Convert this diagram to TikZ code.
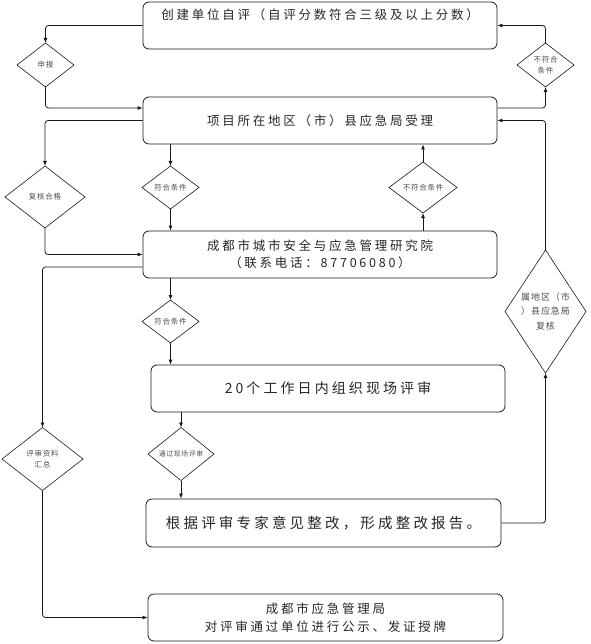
\documentclass[tikz,border=0pt]{standalone}
\usepackage{fontspec}
\newfontfamily\cjk[LetterSpace=22]{Noto Sans CJK SC}
\newfontfamily\cjks[LetterSpace=10]{Noto Sans CJK SC}
\usetikzlibrary{shapes.geometric,arrows.meta}
\begin{document}
\begin{tikzpicture}[x=1pt,y=-1pt,
  box/.style={draw=black!90, line width=0.8pt, rounded corners=6pt, minimum width=354pt, minimum height=47pt, inner sep=0pt, align=center, text=black!85, font=\fontsize{12.5}{17}\selectfont\cjk},
  bigtext/.style={font=\fontsize{14}{17}\selectfont\cjk},
  dia/.style={draw=black!90, line width=0.6pt, diamond, inner sep=0pt, outer sep=0pt},
  dtext/.style={align=center, text=black!70, inner sep=0pt, font=\fontsize{7.5}{11}\selectfont\cjks},
  conn/.style={draw=black!90, line width=0.8pt, rounded corners=3pt},
  arr/.style={conn, -{Latex[length=5pt,width=4pt]}}
]
\useasboundingbox (0,0) rectangle (590,644);
% boxes
\node[box] (b1) at (320,25.5) {创建单位自评（自评分数符合三级及以上分数）\\ \strut};
\node[box] (b2) at (320,120.5) {项目所在地区（市）县应急局受理};
\node[box] (b3) at (320,254.5) {成都市城市安全与应急管理研究院\\（联系电话：87706080）};
\node[box, bigtext] (b4) at (328,388.5) {20个工作日内组织现场评审};
\node[box, font=\fontsize{14.5}{17}\selectfont\cjk, minimum width=355pt, minimum height=48pt] (b5) at (323.5,523) {根据评审专家意见整改，形成整改报告。};
\node[box, minimum width=355pt, font=\fontsize{12.5}{18}\selectfont\cjk] (b6) at (325.5,617.5) {成都市应急管理局\\对评审通过单位进行公示、发证授牌};
% diamonds
\node[dia, minimum width=57pt, minimum height=44pt, label={[dtext]center:申报}] (d1) at (45.5,65) {};
\node[dia, minimum width=57pt, minimum height=44pt, label={[dtext]center:不符合\\条件}] (d2) at (545.5,65) {};
\node[dia, minimum width=80pt, minimum height=62pt, label={[dtext]center:复核合格}] (d3) at (45,197) {};
\node[dia, minimum width=57pt, minimum height=43pt, label={[dtext]center:符合条件}] (d4) at (170.5,187.5) {};
\node[dia, minimum width=68pt, minimum height=51pt, label={[dtext]center:不符合条件}] (d5) at (423,187.5) {};
\node[dia, minimum width=57pt, minimum height=43pt, label={[dtext]center:符合条件}] (d6) at (170.5,321.5) {};
\node[dia, minimum width=81pt, minimum height=123pt, label={[dtext, font=\fontsize{9}{14.5}\selectfont\cjks]center:属地区（市\\）县应急局\\复核}] (d7) at (545.5,311.5) {};
\node[dia, minimum width=81pt, minimum height=63pt, label={[dtext]center:评审资料\\汇总}] (d8) at (42.5,459) {};
\node[dia, minimum width=66pt, minimum height=53pt, label={[dtext, font=\fontsize{6.8}{10}\selectfont\cjks]center:通过现场评审}] (d9) at (181,454) {};
% connectors
\draw[arr] (b1.west) -| (d1.north);
\draw[arr] (d1.south) |- ([yshift=12.5pt]b2.west);
\draw[arr] ([yshift=12.5pt]b2.east) -| (d2.south);
\draw[arr] (d2.north) |- (b1.east);
\draw[arr] (d7.north) |- (b2.east);
\draw[arr] (b2.west) -| (d3.north);
\draw[arr] (d3.south) |- (b3.west);
\draw[arr] (d4.north |- b2.south) -- (d4.north);
\draw[arr] (d4.south) -- (d4.south |- b3.north);
\draw[arr] (d5.south |- b3.north) -- (d5.south);
\draw[arr] (d5.north) -- (d5.north |- b2.south);
\draw[arr] ([yshift=-12.5pt]b3.west) -| (d8.north);
\draw[arr] (d8.south) |- (b6.west);
\draw[arr] (d6.north |- b3.south) -- (d6.north);
\draw[arr] (d6.south) -- (d6.south |- b4.north);
\draw[arr] (d9.north |- b4.south) -- (d9.north);
\draw[arr] (d9.south) -- (d9.south |- b5.north);
\draw[arr] (b5.east) -| (d7.south);
\end{tikzpicture}
\end{document}
